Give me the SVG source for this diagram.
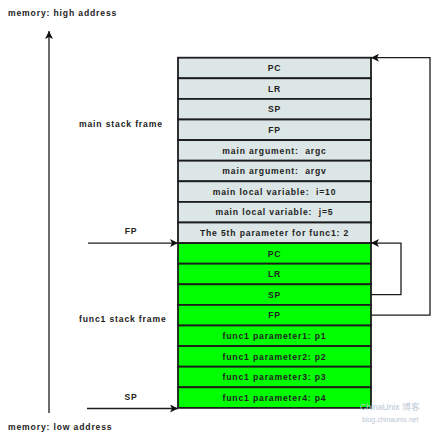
<svg xmlns="http://www.w3.org/2000/svg" width="434" height="434" viewBox="0 0 434 434">
<defs>
<style>
text{font-family:"Liberation Sans",Arial,sans-serif;font-weight:bold;font-size:8.6px;fill:#222;letter-spacing:0.85px;white-space:pre}
.c{text-anchor:middle}
.m rect{fill:#dce6e6;stroke:#1c1c1c;stroke-width:1.8}
.g rect{fill:#00ff00;stroke:#1c1c1c;stroke-width:1.8}
.ln{fill:none;stroke:#1c1c1c;stroke-width:1.3}
.wm{font-weight:normal;fill:#b9c6d2;letter-spacing:0}
</style>
<marker id="ah" viewBox="0 0 10 10" refX="10" refY="5" markerWidth="8" markerHeight="8" markerUnits="userSpaceOnUse" orient="auto">
<path d="M0,0 L10,5 L0,10 L2.5,5 z" fill="#111"/>
</marker>
</defs>
<rect width="434" height="434" fill="#fff"/>
<text x="8" y="15.5">memory: high address</text>
<text x="8" y="429.5">memory: low address</text>
<text x="79" y="127">main stack frame</text>
<text x="79" y="322">func1 stack frame</text>
<text x="131" y="233.5" class="c">FP</text>
<text x="131" y="399.5" class="c">SP</text>

<g id="main-frame" class="m">
<g id="m-pc"><rect x="178" y="57.7" width="193" height="20.6"/><text x="274.5" y="71.2" class="c">PC</text></g>
<g id="m-lr"><rect x="178" y="78.3" width="193" height="20.6"/><text x="274.5" y="91.8" class="c">LR</text></g>
<g id="m-sp"><rect x="178" y="98.9" width="193" height="20.6"/><text x="274.5" y="112.4" class="c">SP</text></g>
<g id="m-fp"><rect x="178" y="119.5" width="193" height="20.6"/><text x="274.5" y="133" class="c">FP</text></g>
<g id="m-argc"><rect x="178" y="140.1" width="193" height="20.6"/><text x="274.5" y="153.6" class="c" xml:space="preserve">main argument:  argc</text></g>
<g id="m-argv"><rect x="178" y="160.7" width="193" height="20.6"/><text x="274.5" y="174.2" class="c" xml:space="preserve">main argument:  argv</text></g>
<g id="m-i"><rect x="178" y="181.3" width="193" height="20.6"/><text x="274.5" y="194.8" class="c" xml:space="preserve">main local variable:  i=10</text></g>
<g id="m-j"><rect x="178" y="201.9" width="193" height="20.6"/><text x="274.5" y="215.4" class="c" xml:space="preserve">main local variable:  j=5</text></g>
<g id="m-5th"><rect x="178" y="222.5" width="193" height="20.6"/><text x="274.5" y="236" class="c">The 5th parameter for func1: 2</text></g>
</g>

<g id="func1-frame" class="g">
<g id="f-pc"><rect x="178" y="243.1" width="193" height="20.6"/><text x="274.5" y="256.6" class="c">PC</text></g>
<g id="f-lr"><rect x="178" y="263.7" width="193" height="20.6"/><text x="274.5" y="277.2" class="c">LR</text></g>
<g id="f-sp"><rect x="178" y="284.3" width="193" height="20.6"/><text x="274.5" y="297.8" class="c">SP</text></g>
<g id="f-fp"><rect x="178" y="304.9" width="193" height="20.6"/><text x="274.5" y="318.4" class="c">FP</text></g>
<g id="f-p1"><rect x="178" y="325.5" width="193" height="20.6"/><text x="274.5" y="339" class="c">func1 parameter1: p1</text></g>
<g id="f-p2"><rect x="178" y="346.1" width="193" height="20.6"/><text x="274.5" y="359.6" class="c">func1 parameter2: p2</text></g>
<g id="f-p3"><rect x="178" y="366.7" width="193" height="20.6"/><text x="274.5" y="380.2" class="c">func1 parameter3: p3</text></g>
<g id="f-p4"><rect x="178" y="387.3" width="193" height="20.6"/><text x="274.5" y="400.8" class="c">func1 parameter4: p4</text></g>
</g>

<g id="connectors">
<path class="ln" d="M49,413 V31" marker-end="url(#ah)"/>
<path class="ln" d="M88,243.1 H178" marker-end="url(#ah)"/>
<path class="ln" d="M87,408.5 H178" marker-end="url(#ah)"/>
<path class="ln" d="M371,315.2 H430 V57.7 H371" marker-end="url(#ah)"/>
<path class="ln" d="M371,294.6 H401 V243.1 H371" marker-end="url(#ah)"/>
</g>

<text x="360" y="410" class="wm" font-size="9">ChinaUnix 博客</text>
<text x="362" y="422" class="wm" style="font-size:7px">blog.chinaunix.net</text>
</svg>
